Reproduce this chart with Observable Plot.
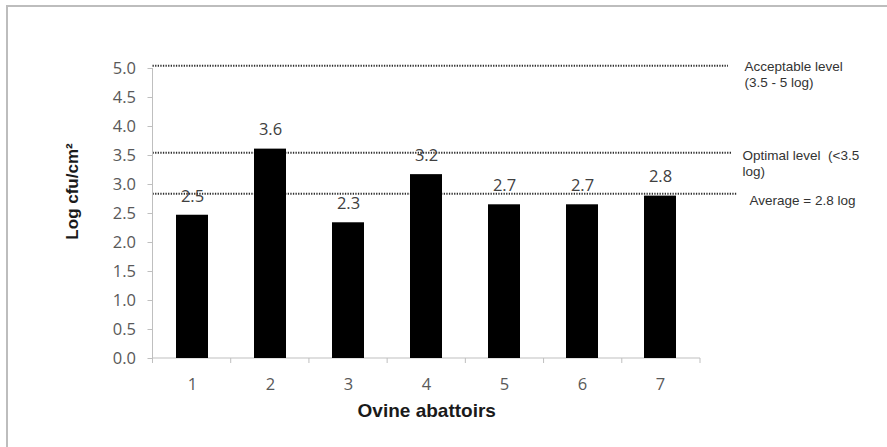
<!DOCTYPE html>
<html>
<head>
<meta charset="utf-8">
<script src="https://cdn.jsdelivr.net/npm/d3@7"></script>
<script src="https://cdn.jsdelivr.net/npm/@observablehq/plot@0.6"></script>
<style>
  html, body { margin: 0; padding: 0; background: #fff; }
  #wrap { position: relative; width: 887px; height: 447px; overflow: hidden; }
  #border { position: absolute; left: 6px; top: 5px; right: -4px; bottom: -4px;
            border-left: 2px solid #bdbdbd; border-top: 2px solid #bdbdbd; pointer-events: none; }
</style>
</head>
<body>
<div id="wrap"><div id="border"></div></div>
<script>
// Data
const categories = ["1", "2", "3", "4", "5", "6", "7"];
const values = [2.47, 3.61, 2.34, 3.17, 2.65, 2.65, 2.80];
const valueLabels = ["2.5", "3.6", "2.3", "3.2", "2.7", "2.7", "2.8"];
const yTicks = [0, 0.5, 1, 1.5, 2, 2.5, 3, 3.5, 4, 4.5, 5];
const refValues = [5.04, 3.54, 2.83];
const refLabels = ["Acceptable level\n(3.5 - 5 log)", "Optimal level  (<3.5\nlog)", "Average = 2.8 log"];
const xTitle = "Ovine abattoirs";
const yTitle = "Log cfu/cm\u00b2";

const bars = categories.map((c, i) => ({cat: c, value: values[i], label: valueLabels[i]}));
const refs = refValues.map((v, i) => ({value: v, label: refLabels[i]}));

const axisGray = "#bfbfbf";
const textGray = "#595959";
const arial = "Liberation Sans, Arial, sans-serif";

// Excel-style axis lines, boundary ticks and dotted reference lines extending past the plot
function decorations(index, scales, values_, dim) {
  const g = d3.create("svg:g");
  const left = dim.marginLeft, right = dim.width - dim.marginRight;
  const y0 = scales.y(0), yTop = scales.y(5);
  const ext = [28, 32, 37];
  refValues.forEach((v, i) => {
    g.append("line")
      .attr("x1", left).attr("x2", right + ext[i])
      .attr("y1", scales.y(v)).attr("y2", scales.y(v))
      .attr("stroke", "#2e2e2e").attr("stroke-width", 2)
      .attr("stroke-dasharray", "1.3,1.3");
  });
  g.append("line").attr("x1", left).attr("x2", left).attr("y1", yTop).attr("y2", y0)
    .attr("stroke", axisGray);
  g.append("line").attr("x1", left).attr("x2", right).attr("y1", y0).attr("y2", y0)
    .attr("stroke", axisGray);
  const step = (right - left) / categories.length;
  for (let i = 0; i <= categories.length; i++) {
    const x = left + i * step;
    g.append("line").attr("x1", x).attr("x2", x).attr("y1", y0).attr("y2", y0 + 5)
      .attr("stroke", axisGray);
  }
  return g.node();
}

const chart = Plot.plot({
  width: 887,
  height: 447,
  marginLeft: 152.5,
  marginRight: 187,
  marginTop: 68,
  marginBottom: 89,
  style: {fontFamily: "Open Sans, sans-serif", fontSize: "16px", background: "transparent", overflow: "visible"},
  x: {domain: categories, paddingInner: 0.59, paddingOuter: 0.295, label: null},
  y: {domain: [0, 5], label: null},
  marks: [
    decorations,
    Plot.barY(bars, {x: "cat", y: "value", fill: "black"}),
    Plot.text(bars, {x: "cat", y: "value", text: "label", dy: -19, fill: "#404040", fontSize: 16.5}),
    Plot.axisY({ticks: yTicks, tickFormat: d3.format(".1f"), tickSize: 5, tickPadding: 12,
      stroke: axisGray, fill: textGray, fontSize: 16.5, label: null}),
    Plot.axisX({tickSize: 0, tickPadding: 20, fill: textGray, fontSize: 16.5, label: null}),
    Plot.text([refs[0]], {y: "value", text: "label", frameAnchor: "right", dx: 44, dy: -7,
      textAnchor: "start", lineAnchor: "top", lineHeight: 1.2, fontFamily: arial, fontSize: 13.5, fill: "#333"}),
    Plot.text([refs[1]], {y: "value", text: "label", frameAnchor: "right", dx: 42, dy: -5,
      textAnchor: "start", lineAnchor: "top", lineHeight: 1.2, fontFamily: arial, fontSize: 13.5, fill: "#333"}),
    Plot.text([refs[2]], {y: "value", text: "label", frameAnchor: "right", dx: 49, dy: 6,
      textAnchor: "start", lineAnchor: "middle", fontFamily: arial, fontSize: 13.5, fill: "#333"}),
    Plot.text([2.88], {y: d => d, text: () => yTitle, frameAnchor: "left", textAnchor: "middle",
      rotate: -90, dx: -80,
      fontFamily: arial, fontWeight: "bold", fontSize: 17, fill: "#1a1a1a"}),
    Plot.text([xTitle], {text: d => d, frameAnchor: "bottom", dy: 58,
      fontFamily: arial, fontWeight: "bold", fontSize: 19, fill: "#1a1a1a"})
  ]
});
document.getElementById("wrap").prepend(chart);
</script>
</body>
</html>
